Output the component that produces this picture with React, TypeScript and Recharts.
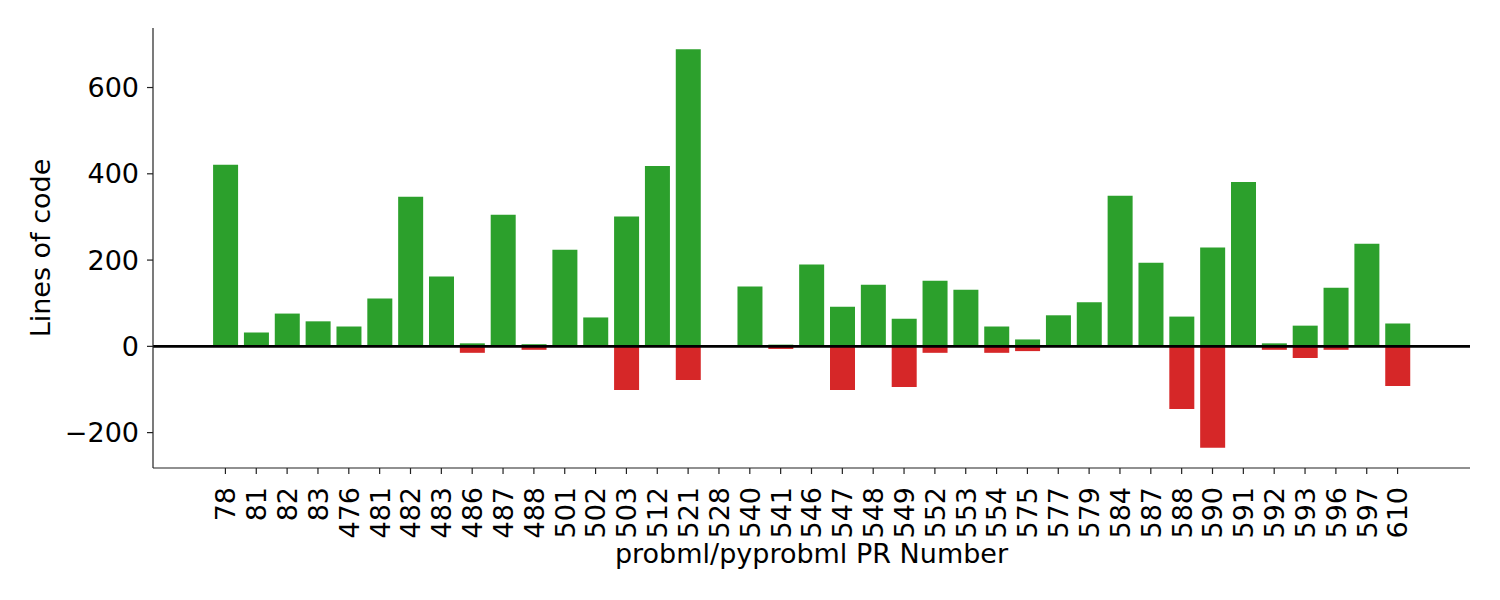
import { BarChart, Bar, XAxis, YAxis, ReferenceLine, Label } from 'recharts';

const prNumbers = [
  '78', '81', '82', '83', '476', '481', '482', '483', '486', '487', '488', '501', '502',
  '503', '512', '521', '528', '540', '541', '546', '547', '548', '549', '552', '553',
  '554', '575', '577', '579', '584', '587', '588', '590', '591', '592', '593', '596',
  '597', '610',
];
const linesAdded = [
  421, 32, 76, 58, 46, 111, 347, 162, 7, 305, 5, 224, 67,
  301, 418, 689, 0, 139, 4, 190, 92, 143, 64, 152, 131,
  46, 16, 72, 102, 349, 194, 69, 229, 381, 7, 48, 136,
  238, 53,
];
const linesRemoved = [
  0, 0, 0, 0, 0, 0, 0, 0, -15, 0, -8, 0, 0,
  -101, 0, -78, 0, 0, -6, 0, -101, 0, -94, -15, 0,
  -15, -11, 0, 0, 0, 0, -145, -235, 0, -8, -27, -8,
  0, -92,
];
const yTicks = [-200, 0, 200, 400, 600];
const yDomain = [-282, 738];

const data = prNumbers.map((pr, i) => ({ pr, added: linesAdded[i], removed: linesRemoved[i] }));

const FONT = '"DejaVu Sans", sans-serif';
const FS = 27;
const AXIS = '#222';

const XTick = ({ x, y, payload }: any) => (
  <g transform={`translate(${x},${y + 11})`}>
    <text transform="rotate(-90)" textAnchor="end" dy="0.365em" fontSize={FS} fontFamily={FONT} fill="#000">
      {payload.value}
    </text>
  </g>
);

export default function App() {
  return (
    <div style={{ width: 1500, height: 600 }}>
      <style>{'body{margin:0}'}</style>
      <BarChart
        width={1500}
        height={600}
        data={data}
        stackOffset="sign"
        barCategoryGap="10%"
        margin={{ top: 28, right: 30, bottom: 0, left: 0 }}
        style={{ fontFamily: FONT }}
      >
        <XAxis
          dataKey="pr"
          height={132}
          interval={0}
          padding={{ left: 57, right: 57 }}
          tick={<XTick />}
          tickSize={6}
          axisLine={{ stroke: AXIS, strokeWidth: 1.2 }}
          tickLine={{ stroke: AXIS, strokeWidth: 1.2 }}
        >
          <Label
            content={({ viewBox }: any) => (
              <text x={viewBox.x + viewBox.width / 2} y={viewBox.y + 95} textAnchor="middle" fontSize={FS} fontFamily={FONT} fill="#000">
                probml/pyprobml PR Number
              </text>
            )}
          />
        </XAxis>
        <YAxis
          width={153}
          domain={yDomain}
          ticks={yTicks}
          allowDataOverflow
          tickSize={6}
          tickMargin={8}
          tick={{ fontSize: FS, fill: '#000', fontFamily: FONT }}
          tickFormatter={(v) => (v < 0 ? `\u2212${Math.abs(v)}` : `${v}`)}
          axisLine={{ stroke: AXIS, strokeWidth: 1.2 }}
          tickLine={{ stroke: AXIS, strokeWidth: 1.2 }}
        >
          <Label
            content={({ viewBox }: any) => {
              const cy = viewBox.y + viewBox.height / 2;
              return (
                <text x={50} y={cy} transform={`rotate(-90, 50, ${cy})`} textAnchor="middle" fontSize={FS} fontFamily={FONT} fill="#000">
                  Lines of code
                </text>
              );
            }}
          />
        </YAxis>
        <Bar dataKey="added" stackId="loc" fill="#2ca02c" isAnimationActive={false} />
        <Bar dataKey="removed" stackId="loc" fill="#d62728" isAnimationActive={false} />
        <ReferenceLine y={0} stroke="#000" strokeWidth={2.6} ifOverflow="extendDomain" />
      </BarChart>
    </div>
  );
}
